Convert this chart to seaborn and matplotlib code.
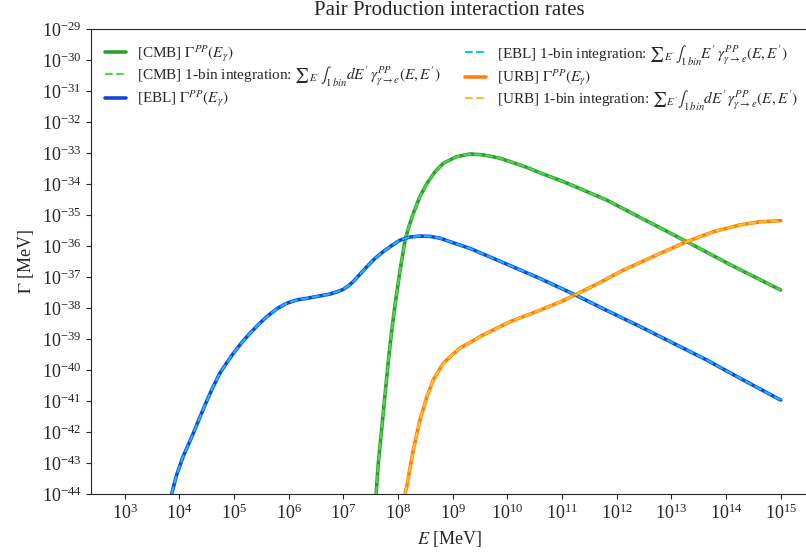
import numpy as np
import matplotlib
matplotlib.use("Agg")
import matplotlib.pyplot as plt
import seaborn as sns

# log10(E / MeV) and log10(Gamma / MeV) for each photon background
cmb_logE = [7.60, 7.64, 7.70, 7.76, 7.82, 7.88, 7.95, 8.04, 8.13, 8.19, 8.28, 8.40,
            8.53, 8.68, 8.83, 9.07, 9.32, 9.56, 9.87, 10.35, 10.60, 10.96, 11.21,
            11.82, 12.43, 13.28, 14.13, 15.00]
cmb_logG = [-44.0, -43.01, -41.94, -40.86, -39.78, -38.82, -37.85, -36.77, -35.81,
            -35.43, -34.95, -34.41, -33.98, -33.60, -33.33, -33.12, -33.03, -33.06,
            -33.17, -33.46, -33.64, -33.88, -34.06, -34.52, -35.08, -35.86, -36.65,
            -37.42]

ebl_logE = [3.86, 3.95, 4.07, 4.23, 4.38, 4.47, 4.59, 4.74, 4.87, 4.99, 5.14, 5.29,
            5.45, 5.60, 5.78, 5.96, 6.15, 6.33, 6.54, 6.76, 6.88, 7.00, 7.09, 7.18,
            7.31, 7.43, 7.58, 7.73, 7.89, 8.04, 8.22, 8.40, 8.59, 8.77, 8.95, 9.32,
            9.93, 10.60, 11.27, 11.82, 12.43, 13.04, 13.65, 14.26, 15.00]
ebl_logG = [-44.0, -43.39, -42.79, -42.15, -41.51, -41.13, -40.65, -40.11, -39.76,
            -39.46, -39.12, -38.82, -38.53, -38.28, -38.03, -37.85, -37.74, -37.69,
            -37.62, -37.55, -37.48, -37.40, -37.29, -37.15, -36.90, -36.67, -36.40,
            -36.18, -35.98, -35.81, -35.71, -35.68, -35.69, -35.75, -35.86, -36.08,
            -36.54, -37.05, -37.60, -38.08, -38.60, -39.14, -39.68, -40.27, -40.97]

urb_logE = [8.13, 8.16, 8.28, 8.40, 8.53, 8.65, 8.83, 8.95, 9.13, 9.32, 9.50, 10.05,
            10.60, 11.00, 11.27, 11.70, 12.12, 12.73, 13.28, 13.77, 14.25, 14.62, 15.00]
urb_logG = [-44.0, -43.76, -42.58, -41.63, -40.86, -40.30, -39.78, -39.58, -39.30,
            -39.11, -38.92, -38.44, -38.07, -37.78, -37.55, -37.17, -36.78, -36.29,
            -35.86, -35.54, -35.32, -35.22, -35.18]

x_ticks = list(range(3, 16))
y_ticks = list(range(-44, -28))

sns.set_style("ticks")
plt.rcParams["font.family"] = ["Liberation Serif", "DejaVu Serif"]
plt.rcParams["mathtext.fontset"] = "stix"

fig = plt.figure(figsize=(8.06, 5.59), dpi=100)
ax = fig.add_axes([91 / 806, 65 / 559, 717 / 806, 465 / 559])

series = [
    ("CMB", cmb_logE, cmb_logG, "#2ca02c", "#4fd64f", r"dE'"),
    ("EBL", ebl_logE, ebl_logG, "#1447d9", "#17b8ff", r"E'"),
    ("URB", urb_logE, urb_logG, "#ff7f0e", "#ffc21f", r"dE'"),
]

for name, lE, lG, c_solid, c_dash, meas in series:
    E = 10 ** np.array(lE)
    G = 10 ** np.array(lG)
    sns.lineplot(x=E, y=G, ax=ax, color=c_solid, lw=2.6, sort=False,
                 estimator=None, label=rf"[{name}] $\Gamma^{{PP}}(E_\gamma)$")
    sns.lineplot(x=E, y=G, ax=ax, color=c_dash, lw=1.5, linestyle="--",
                 sort=False, estimator=None,
                 label=rf"[{name}] 1-bin integration: ${{\sum}}_{{E'}}\int_{{1\,bin}}{meas}\,"
                       rf"\gamma^{{PP}}_{{\gamma\to e}}(E,E')$")

ax.set_xscale("log")
ax.set_yscale("log")
ax.set_xlim(10 ** 2.385, 10 ** 15.5)
ax.set_ylim(1e-44, 1e-29)
ax.set_xticks([10.0 ** k for k in x_ticks])
ax.set_yticks([10.0 ** k for k in y_ticks])
ax.minorticks_off()
ax.tick_params(labelsize=13)

ax.set_xlabel(r"$E$ [MeV]", fontsize=13)
ax.set_ylabel(r"$\Gamma$ [MeV]", fontsize=13)
ax.set_title("Pair Production interaction rates", fontsize=15, pad=10)

ax.legend(loc="upper left", ncol=2, frameon=False, fontsize=11,
          handlelength=1.4, handletextpad=0.7, columnspacing=1.6, labelspacing=0.0)

fig.savefig("out.png", dpi=100)
